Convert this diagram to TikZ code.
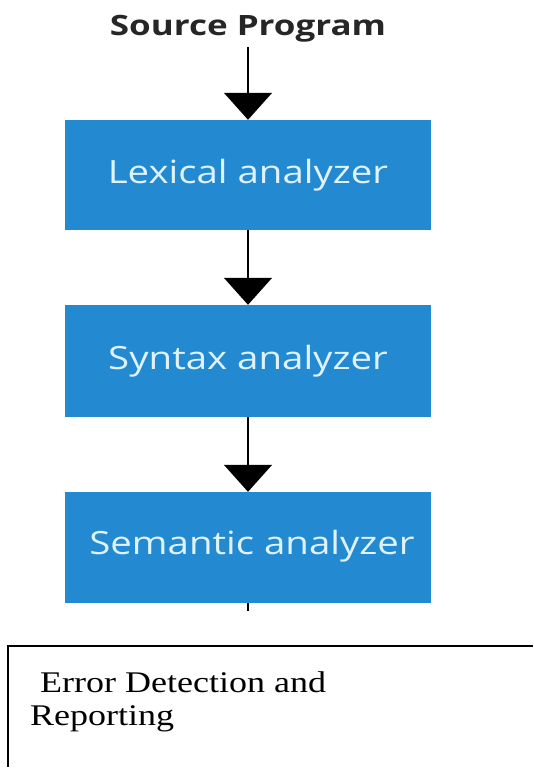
\documentclass[tikz,border=0pt]{standalone}
\usepackage{fontspec}
\setmainfont{Liberation Serif}[FakeStretch=1.2]
\newfontfamily\boxfont{Open Sans}[FakeStretch=1.2]
\newfontfamily\srcfont{Open Sans}[FakeStretch=1.25]
\usetikzlibrary{arrows.meta}
\definecolor{boxblue}{RGB}{35,137,208}
\definecolor{boxtext}{RGB}{222,242,255}
\begin{document}
\begin{tikzpicture}[x=1pt,y=-1pt,
  stagebox/.style={fill=boxblue,draw=none,minimum width=366pt,inner sep=0pt,
    text=boxtext,font=\boxfont\fontsize{32}{35}\selectfont},
  flow/.style={line width=1.5pt,-{Triangle[width=48pt,length=27pt]}},
  errline/.style={line width=1.5pt}]
\useasboundingbox (0,0) rectangle (533,771);
\node[anchor=base,font=\srcfont\bfseries\fontsize{28}{30}\selectfont,text=black!85] (src) at (248,35) {Source Program};
\node[stagebox,minimum height=110pt] (lex) at (248,175) {Lexical analyzer};
\node[stagebox,minimum height=112pt] (syn) at (248,361) {\raisebox{3pt}{Syntax analyzer}};
\node[stagebox,minimum height=111pt] (sem) at (248,547.5) {\hspace*{8pt}\raisebox{10pt}{Semantic analyzer}};
\coordinate (srcbot) at (248,47);
\coordinate (stub) at (248,611);
\draw[flow] (srcbot) -- (lex.north);
\draw[flow] (lex.south) -- (syn.north);
\draw[flow] (syn.south) -- (sem.north);
\draw[line width=1.5pt] (sem.south) -- (stub);
\coordinate (eR) at (533,646);
\coordinate (eTL) at (8,646);
\coordinate (eBL) at (8,767);
\draw[errline] (eR) -- (eTL) -- (eBL);
\node[anchor=base west,align=left,inner sep=0pt,font=\fontsize{30}{33}\selectfont] (err) at (30,725) {\hspace*{10pt}Error Detection and\\Reporting};
\end{tikzpicture}
\end{document}
